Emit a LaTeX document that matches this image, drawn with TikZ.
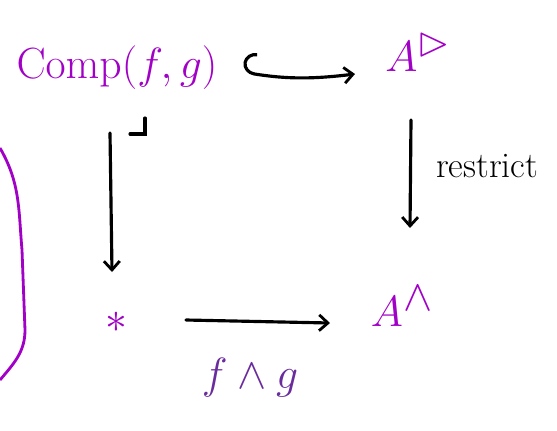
\documentclass[tikz,border=0pt]{standalone}
\usepackage{amsmath,amssymb}
\usepackage{tikz}
\usetikzlibrary{
    arrows.meta,
    positioning,
    calc,
}
\usepackage{xcolor}
\definecolor{objcol}{HTML}{A100C6}
\definecolor{mapcol}{HTML}{6A2C9C}

\begin{document}
\begin{tikzpicture}[
    x=0.02cm, y=-0.02cm,
    >={Straight Barb[length=5pt,width=9pt,line width=1.6pt]},
    obj/.style    = {text=objcol, inner sep=1pt,
                     font=\fontsize{24}{28}\selectfont},
    bigobj/.style = {obj, font=\fontsize{34}{38}\selectfont},
    arr/.style    = {->, line width=1.8pt, line cap=round},
    lbl/.style    = {font=\fontsize{20.5}{24}\selectfont, inner sep=1pt},
    maplbl/.style = {lbl, text=mapcol, font=\fontsize{24}{28}\selectfont},
]
\useasboundingbox (0,0) rectangle (557,430);

%% -- Objects --------------------------------------------------------------
\node[obj]    (comp)  at (117,68)  {$\mathrm{Comp}(f,g)$};
\node[bigobj] (atri)  at (418,52)  {$A^{\rhd}$};
\node[obj, font=\fontsize{40}{44}\selectfont] (pt) at (116,322) {$\ast$};
\node[bigobj] (ahorn) at (402,306) {$A^{\wedge}$};

%% -- Arrow ends -----------------------------------------------------------
\coordinate (hk) at (242,72);
\coordinate (hkend) at (355,74);
\coordinate (lt) at (110,133);
\coordinate (lb) at (112,272);
\coordinate (rt) at (411,120);
\coordinate (rb) at (410,228);
\coordinate (bl) at (186,320);
\coordinate (br) at (330,323);

%% -- Maps -----------------------------------------------------------------
\draw[arr, {Hooks[right,length=7pt,width=24pt]}->] (hk) to[bend right=8] (hkend);
\draw[arr] (lt) -- (lb);
\draw[arr] (rt) -- (rb);
\draw[arr] (bl) -- (br);

\node[lbl, anchor=west] (res) at (434,166) {restrict};
\node[maplbl] (fg) at (250,378) {$f\wedge g$};

%% -- Pullback corner ------------------------------------------------------
\coordinate (pb) at (145,134);
\draw[line width=1.8pt, line cap=round] ($(pb)+(-15,0)$) -- (pb) -- ($(pb)+(0,-16)$);

%% -- Side brace -----------------------------------------------------------
\draw[objcol, line width=1.6pt] (0,148) to[out=-60,in=95] (22,250)
    -- (25,330) to[out=-90,in=50] (0,380);

\end{tikzpicture}
\end{document}
